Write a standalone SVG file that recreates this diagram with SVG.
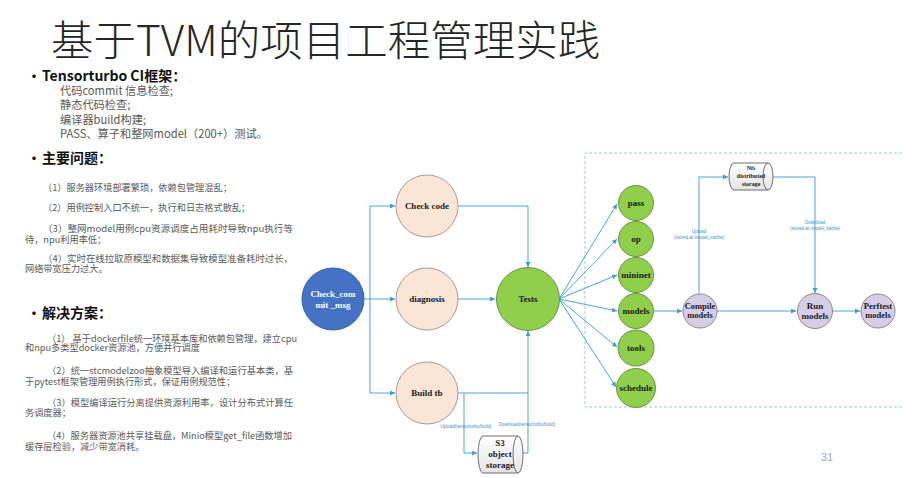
<svg xmlns="http://www.w3.org/2000/svg" width="921" height="478" viewBox="0 0 921 478">
<defs>
<marker id="ah" markerUnits="userSpaceOnUse" markerWidth="6" markerHeight="6" refX="5" refY="2.5" orient="auto">
<path d="M0,0 L5,2.5 L0,5 Z" fill="#3d9bd6"/>
</marker>
<linearGradient id="cyl" x1="0" y1="0" x2="0" y2="1">
<stop offset="0" stop-color="#ffffff"/>
<stop offset="1" stop-color="#e4e4e4"/>
</linearGradient>
</defs>
<style>
.t{font-family:"Noto Sans CJK SC","Noto Sans",sans-serif;fill:#595959;font-size:9.2px}
.s{font-family:"Noto Sans CJK SC","Noto Sans",sans-serif;fill:#595959;font-size:11.2px}
.h{font-family:"Noto Sans CJK SC","Noto Sans",sans-serif;fill:#111;font-size:14px;font-weight:700}
.n{font-family:"Liberation Serif","Times New Roman",serif;font-weight:700;font-size:9px;fill:#1a1a1a;text-anchor:middle}
.c{fill:none;stroke:#4aa3df;stroke-width:1}
.a{marker-end:url(#ah)}
.lbl{font-family:"Liberation Sans",Arial,sans-serif;font-size:4.5px;fill:#3d8fd0;text-anchor:middle}
.peach{fill:#fbe5d6;stroke:#a69a92;stroke-width:1}
.green{fill:#8fcf4a;stroke:#6f8f4f;stroke-width:1}
.purple{fill:#d6cee6;stroke:#8a8a8a;stroke-width:1}
.cy{fill:url(#cyl);stroke:#6e6e6e;stroke-width:1}
</style>
<rect width="921" height="478" fill="#ffffff"/>

<text x="51" y="56" style="font-family:'Noto Sans CJK SC','Noto Sans',sans-serif;font-weight:300;font-size:42.5px;fill:#262626">基于TVM的项目工程管理实践</text>

<text x="27" y="81" class="h">•</text>
<text x="42" y="81" class="h">Tensorturbo CI框架：</text>
<text class="s"><tspan x="60" y="94.5">代码commit 信息检查;</tspan><tspan x="60" y="109">静态代码检查;</tspan><tspan x="60" y="123.5">编译器build构建;</tspan><tspan x="60" y="138">PASS、算子和整网model（200+）测试。</tspan></text>

<text x="27" y="163" class="h">•</text>
<text x="42" y="163" class="h">主要问题：</text>
<text x="43" y="190.5" class="t">（1）服务器环境部署繁琐，依赖包管理混乱；</text>
<text x="43" y="211" class="t">（2）用例控制入口不统一，执行和日志格式散乱；</text>
<text class="t"><tspan x="43" y="231.5" textLength="250" lengthAdjust="spacingAndGlyphs">（3）整网model用例cpu资源调度占用耗时导致npu执行等</tspan><tspan x="25" y="242.5">待，npu利用率低；</tspan></text>
<text class="t"><tspan x="43" y="261.5" textLength="250" lengthAdjust="spacingAndGlyphs">（4）实时在线拉取原模型和数据集导致模型准备耗时过长，</tspan><tspan x="25" y="271.5">网络带宽压力过大。</tspan></text>

<text x="27" y="318" class="h">•</text>
<text x="42" y="318" class="h">解决方案：</text>
<text class="t"><tspan x="47" y="341.5" textLength="250" lengthAdjust="spacingAndGlyphs">（1） 基于dockerfile统一环境基本库和依赖包管理，建立cpu</tspan><tspan x="25" y="351">和npu多类型docker资源池，方便并行调度</tspan></text>
<text class="t"><tspan x="47" y="373.5" textLength="246" lengthAdjust="spacingAndGlyphs">（2）统一stcmodelzoo抽象模型导入编译和运行基本类，基</tspan><tspan x="25" y="384.5">于pytest框架管理用例执行形式，保证用例规范性；</tspan></text>
<text class="t"><tspan x="47" y="405.5" textLength="246" lengthAdjust="spacingAndGlyphs">（3）模型编译运行分离提供资源利用率，设计分布式计算任</tspan><tspan x="25" y="415.5">务调度器；</tspan></text>
<text class="t"><tspan x="47" y="438.5" textLength="245" lengthAdjust="spacingAndGlyphs">（4）服务器资源池共享挂载盘，Minio模型get_file函数增加</tspan><tspan x="25" y="449.5">缓存层检验，减少带宽消耗。</tspan></text>

<text x="827" y="461" style="font-family:'Liberation Sans',Arial,sans-serif;font-size:11px;fill:#a6a6a6;text-anchor:middle">31</text>

<path d="M902,153 H585 V407 H902" fill="none" stroke="#8fcfe8" stroke-width="1" stroke-dasharray="3,2"/>

<g id="connectors">
<path class="c a" d="M364,299 H395"/>
<path class="c" d="M370,206 V393"/>
<path class="c a" d="M370,206 H395"/>
<path class="c a" d="M370,393 H395"/>
<path class="c a" d="M458,206 H528 V267"/>
<path class="c a" d="M458,299 H495"/>
<path class="c" d="M458,393 H528"/>
<path class="c a" d="M464,393 V453 H477"/>
<path class="c a" d="M523,453 H528 V331"/>
<path class="c a" d="M559,299 L617,204"/>
<path class="c a" d="M559,299 L617,239"/>
<path class="c a" d="M559,299 L617,275"/>
<path class="c a" d="M559,299 L617,311"/>
<path class="c a" d="M559,299 L617,347"/>
<path class="c a" d="M559,299 L616,387"/>
<path class="c a" d="M654,311 H682"/>
<path class="c a" d="M699,294 V177 H728"/>
<path class="c a" d="M773,177 H815 V293"/>
<path class="c a" d="M717,311 H796"/>
<path class="c a" d="M833,311 H860"/>
<text class="lbl" x="466" y="428">Upload(tensorturbo/build)</text>
<text class="lbl" x="527" y="426">Download(tensorturbo/build)</text>
<text class="lbl" x="699" y="233">Upload</text>
<text class="lbl" x="699" y="239">(stored at /model_cache)</text>
<text class="lbl" x="815" y="224">Download</text>
<text class="lbl" x="815" y="230">(stored at /model_cache)</text>
</g>

<g id="check_commit_msg">
<circle cx="333" cy="299" r="31" fill="#4472c4" stroke="#3a62a8"/>
<text class="n" x="333" y="297" style="fill:#ffffff">Check_com</text>
<text class="n" x="333" y="308" style="fill:#ffffff">mit _msg</text>
</g>
<g id="check_code">
<circle class="peach" cx="427" cy="206" r="31"/>
<text class="n" x="427" y="209">Check code</text>
</g>
<g id="diagnosis">
<circle class="peach" cx="427" cy="299" r="31"/>
<text class="n" x="427" y="302">diagnosis</text>
</g>
<g id="build_tb">
<circle class="peach" cx="427" cy="393" r="31"/>
<text class="n" x="427" y="396">Build tb</text>
</g>
<g id="tests">
<circle class="green" cx="528" cy="299" r="31.5"/>
<text class="n" x="528" y="302">Tests</text>
</g>
<g id="s3">
<path class="cy" d="M483,436 H518 A5,18.5 0 0 1 518,473 H483 A5,18.5 0 0 1 483,436 Z"/>
<path d="M518,436 A5,18.5 0 0 0 518,473" fill="none" stroke="#6e6e6e"/>
<text class="n" x="500" y="446">S3</text>
<text class="n" x="500" y="457">object</text>
<text class="n" x="500" y="468">storage</text>
</g>
<g id="pass">
<circle class="green" cx="636" cy="203" r="17.5"/>
<text class="n" x="636" y="206">pass</text>
</g>
<g id="op">
<circle class="green" cx="636" cy="239" r="17.5"/>
<text class="n" x="636" y="242">op</text>
</g>
<g id="mininet">
<circle class="green" cx="636" cy="275" r="17.5"/>
<text class="n" x="636" y="278">mininet</text>
</g>
<g id="models">
<circle class="green" cx="636" cy="311" r="17.5"/>
<text class="n" x="636" y="314">models</text>
</g>
<g id="tools">
<circle class="green" cx="636" cy="348" r="18"/>
<text class="n" x="636" y="351">tools</text>
</g>
<g id="schedule">
<circle class="green" cx="636" cy="388" r="19.5"/>
<text class="n" x="636" y="391">schedule</text>
</g>
<g id="nfs">
<path class="cy" d="M734,163 H768 A5,13.5 0 0 1 768,190 H734 A5,13.5 0 0 1 734,163 Z"/>
<path d="M768,163 A5,13.5 0 0 0 768,190" fill="none" stroke="#6e6e6e"/>
<text class="n" x="751" y="170" style="font-size:6px">Nfs</text>
<text class="n" x="751" y="178" style="font-size:6px">distributed</text>
<text class="n" x="751" y="185.5" style="font-size:6px">storage</text>
</g>
<g id="compile_models">
<circle class="purple" cx="700" cy="311" r="17"/>
<text class="n" x="700" y="309" style="font-size:8.5px">Compile</text>
<text class="n" x="700" y="318" style="font-size:8.5px">models</text>
</g>
<g id="run_models">
<circle class="purple" cx="815" cy="311" r="17.5"/>
<text class="n" x="815" y="309">Run</text>
<text class="n" x="815" y="319">models</text>
</g>
<g id="perftest_models">
<circle class="purple" cx="878" cy="311" r="17"/>
<text class="n" x="878" y="309" style="font-size:8.5px">Perftest</text>
<text class="n" x="878" y="318" style="font-size:8.5px">models</text>
</g>
</svg>
